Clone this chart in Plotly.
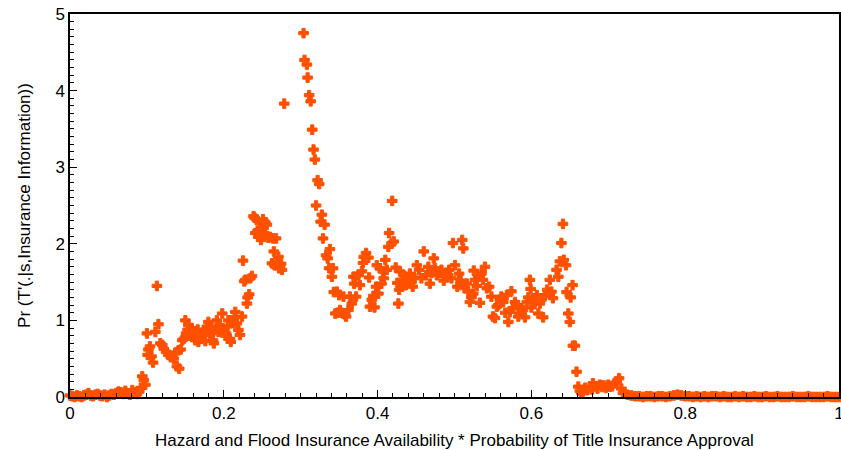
import plotly.graph_objects as go

# Baseline: near-zero density at low availability
base_x = [0.000, 0.003, 0.006, 0.009, 0.012, 0.015, 0.018, 0.021, 0.024, 0.027,
          0.030, 0.033, 0.036, 0.039, 0.042, 0.045, 0.048, 0.051, 0.054, 0.057,
          0.060, 0.063, 0.066, 0.069, 0.072, 0.075, 0.078, 0.081, 0.084, 0.087, 0.090]
base_y = [0.02, 0.01, 0.00, 0.02, 0.01, 0.00, 0.02, 0.03, 0.05, 0.02,
          0.01, 0.03, 0.04, 0.02, 0.01, 0.03, 0.00, 0.02, 0.04, 0.03,
          0.05, 0.07, 0.06, 0.04, 0.08, 0.05, 0.03, 0.09, 0.06, 0.04, 0.07]

# First rise
rise_x = [0.092, 0.094, 0.096, 0.098, 0.100, 0.101, 0.102, 0.104, 0.106, 0.108,
          0.111, 0.113, 0.115, 0.1175, 0.120, 0.122, 0.125, 0.128, 0.131, 0.133,
          0.135, 0.137, 0.139, 0.141, 0.142, 0.144, 0.146]
rise_y = [0.12, 0.27, 0.22, 0.16, 0.83, 0.55, 0.62, 0.66, 0.53, 0.45,
          0.85, 1.45, 0.95, 0.70, 0.68, 0.63, 0.59, 0.55, 0.52, 0.53,
          0.50, 0.58, 0.40, 0.61, 0.37, 0.62, 0.74]

# Cluster around one
clus_x = [0.148, 0.150, 0.151, 0.153, 0.154, 0.156, 0.158, 0.159, 0.161, 0.163,
          0.165, 0.166, 0.167, 0.169, 0.171, 0.172, 0.174, 0.176, 0.178, 0.180,
          0.181, 0.182, 0.184, 0.186, 0.187, 0.189, 0.191, 0.193, 0.1945, 0.196,
          0.198, 0.200, 0.202, 0.203, 0.205, 0.206, 0.208, 0.209, 0.2107, 0.212,
          0.214, 0.215, 0.217, 0.219, 0.221, 0.2236]
clus_y = [0.76, 1.00, 0.83, 0.88, 0.94, 0.80, 0.90, 0.85, 0.79, 0.74,
          0.83, 0.88, 0.72, 0.76, 0.79, 0.82, 0.85, 0.73, 0.92, 0.98,
          0.86, 0.81, 0.90, 0.74, 0.70, 0.875, 1.00, 0.85, 0.94, 0.90,
          1.09, 0.875, 0.80, 0.83, 0.92, 1.00, 0.76, 0.72, 1.00, 0.97,
          1.04, 1.11, 0.96, 0.875, 0.81, 1.05]

# Climb to the second shoulder
climb_x = [0.225, 0.2266, 0.228, 0.230, 0.231, 0.233, 0.2345, 0.2366, 0.2387, 0.240,
           0.241, 0.243, 0.244, 0.245, 0.247, 0.2485, 0.2496, 0.251, 0.2526, 0.254,
           0.256, 0.258, 0.260, 0.2626, 0.264, 0.265, 0.266, 0.268, 0.269, 0.271,
           0.272, 0.273, 0.2745, 0.2756, 0.2786]
climb_y = [1.78, 1.51, 1.53, 1.22, 1.30, 1.34, 1.55, 1.58, 2.36, 2.34,
           2.14, 2.31, 2.17, 2.09, 2.27, 2.05, 2.18, 2.32, 2.14, 2.28,
           2.25, 2.08, 2.09, 1.745, 2.07, 1.90, 1.72, 2.07, 1.77, 1.83,
           1.68, 1.70, 1.74, 1.66, 3.83]

# Main peak and its decay
peak_x = [0.3037, 0.305, 0.308, 0.309, 0.311, 0.313, 0.315, 0.3167, 0.3184, 0.320,
          0.322, 0.324, 0.326, 0.3275, 0.329, 0.331, 0.333, 0.335, 0.337, 0.338,
          0.3405, 0.342, 0.343, 0.345, 0.347, 0.348, 0.350, 0.351, 0.353, 0.3556,
          0.357, 0.359, 0.362, 0.364, 0.3665, 0.3686, 0.3695, 0.371, 0.372, 0.375]
peak_y = [4.75, 4.40, 4.34, 4.17, 3.94, 3.86, 3.49, 3.23, 3.10, 2.50,
          2.83, 2.78, 2.29, 2.38, 2.07, 2.25, 1.85, 1.81, 1.68, 1.93,
          1.57, 1.68, 1.37, 1.09, 1.375, 1.10, 1.33, 1.135, 1.10, 1.31,
          1.08, 1.05, 1.135, 1.31, 1.22, 1.57, 1.48, 1.57, 1.31, 1.59]

# Plateau
plat_x = [0.377, 0.3795, 0.381, 0.382, 0.385, 0.388, 0.389, 0.390, 0.3925, 0.3945,
          0.396, 0.398, 0.399, 0.401, 0.403, 0.405, 0.4068, 0.408, 0.410, 0.412,
          0.414, 0.415, 0.4185, 0.419, 0.421, 0.4236, 0.4257, 0.427, 0.428, 0.429,
          0.431, 0.4335, 0.435, 0.437, 0.439, 0.442, 0.444, 0.4457, 0.448, 0.451,
          0.454, 0.457, 0.460, 0.463, 0.466, 0.468, 0.470, 0.473, 0.4747, 0.477,
          0.480, 0.483, 0.486, 0.488, 0.490, 0.493, 0.496, 0.498, 0.5006, 0.5036,
          0.506, 0.508, 0.510, 0.5114]
plat_y = [1.46, 1.64, 1.75, 1.83, 1.88, 1.82, 1.56, 1.18, 1.27, 1.32,
          1.17, 1.44, 1.72, 1.35, 1.68, 1.48, 1.64, 1.55, 1.79, 1.66,
          1.96, 2.14, 2.01, 2.56, 2.03, 1.69, 1.49, 1.22, 1.40, 1.64,
          1.45, 1.53, 1.58, 1.46, 1.52, 1.61, 1.50, 1.44, 1.56, 1.72,
          1.66, 1.55, 1.90, 1.59, 1.70, 1.48, 1.62, 1.81, 1.68, 1.59,
          1.62, 1.66, 1.52, 1.58, 1.62, 1.66, 1.55, 2.01, 1.72, 1.44,
          1.61, 1.52, 2.05, 1.94]

# Gentle decline and last spike
dec_x = [0.513, 0.516, 0.518, 0.520, 0.522, 0.5244, 0.525, 0.5266, 0.529, 0.531,
         0.533, 0.535, 0.537, 0.5396, 0.542, 0.545, 0.548, 0.550, 0.5526, 0.555,
         0.557, 0.559, 0.561, 0.5634, 0.566, 0.568, 0.570, 0.572, 0.574, 0.5756,
         0.5786, 0.581, 0.583, 0.585, 0.587, 0.589, 0.5916, 0.594, 0.596, 0.598,
         0.599, 0.600, 0.602, 0.6045, 0.607, 0.609, 0.611, 0.613, 0.6153, 0.6175,
         0.6206, 0.622, 0.624, 0.626, 0.628, 0.6327, 0.635, 0.637, 0.639, 0.641,
         0.642, 0.645, 0.6457, 0.648, 0.650, 0.651, 0.6535]
dec_y = [1.42, 1.48, 1.38, 1.24, 1.30, 1.35, 1.65, 1.53, 1.45, 1.57,
         1.23, 1.61, 1.53, 1.70, 1.42, 1.44, 1.31, 1.05, 1.03, 1.18,
         1.20, 1.27, 1.31, 1.24, 1.10, 1.33, 0.98, 1.11, 1.38, 1.16,
         1.24, 1.20, 1.05, 1.09, 1.15, 1.135, 1.04, 1.24, 1.30, 1.53,
         1.41, 1.17, 1.28, 1.24, 1.33, 1.09, 1.22, 1.27, 1.04, 1.33,
         1.40, 1.36, 1.53, 1.375, 1.29, 1.66, 1.57, 1.77, 2.01, 2.26,
         1.79, 1.72, 1.37, 1.09, 0.98, 1.30, 1.46]

# Collapse and small bump
drop_x = [0.654, 0.6565, 0.6587, 0.661, 0.663, 0.665, 0.667, 0.670, 0.673, 0.676,
          0.679, 0.680, 0.683, 0.686, 0.689, 0.692, 0.694, 0.697, 0.700, 0.702,
          0.705, 0.708, 0.711, 0.714, 0.717, 0.719]
drop_y = [0.67, 0.67, 0.33, 0.135, 0.08, 0.05, 0.07, 0.12, 0.09, 0.13,
          0.10, 0.18, 0.14, 0.11, 0.16, 0.13, 0.15, 0.12, 0.16, 0.135,
          0.14, 0.18, 0.20, 0.245, 0.11, 0.05]

# Flat tail
tail_x = [0.725, 0.730, 0.735, 0.740, 0.745, 0.750, 0.755, 0.760, 0.765, 0.770,
          0.775, 0.780, 0.785, 0.790, 0.795, 0.800, 0.805, 0.810, 0.815, 0.820,
          0.825, 0.830, 0.835, 0.840, 0.845, 0.850, 0.855, 0.860, 0.865, 0.870,
          0.875, 0.880, 0.885, 0.890, 0.895, 0.900, 0.905, 0.910, 0.915, 0.920,
          0.925, 0.930, 0.935, 0.940, 0.945, 0.950, 0.955, 0.960, 0.965, 0.970,
          0.975, 0.980, 0.985, 0.990, 0.995, 1.000]
tail_y = [0.03, 0.02, 0.01, 0.01, 0.00, 0.01, 0.01, 0.00, 0.01, 0.01,
          0.00, 0.01, 0.02, 0.03, 0.02, 0.01, 0.01, 0.00, 0.01, 0.00,
          0.01, 0.00, 0.01, 0.01, 0.00, 0.01, 0.00, 0.00, 0.01, 0.00,
          0.01, 0.00, 0.00, 0.01, 0.00, 0.00, 0.01, 0.00, 0.00, 0.01,
          0.00, 0.00, 0.00, 0.01, 0.00, 0.00, 0.00, 0.01, 0.00, 0.00,
          0.00, 0.00, 0.01, 0.00, 0.00, 0.00]

xs = base_x + rise_x + clus_x + climb_x + peak_x + plat_x + dec_x + drop_x + tail_x
ys = base_y + rise_y + clus_y + climb_y + peak_y + plat_y + dec_y + drop_y + tail_y

FONT = "Liberation Sans, Arial, sans-serif"
ORANGE = "#ff5000"

fig = go.Figure(go.Scatter(
    x=xs, y=ys, mode="markers",
    marker=dict(symbol="cross", size=8, color=ORANGE, line=dict(width=1, color=ORANGE)),
    cliponaxis=False, hoverinfo="x+y",
))

axis_common = dict(
    showgrid=False, zeroline=False, showline=True, linecolor="black", linewidth=1.5,
    mirror=True, ticks="inside", tickcolor="black", tickwidth=1, ticklen=7,
    tickfont=dict(family=FONT, size=17, color="black"),
    ticklabeloverflow="allow",
)

fig.update_xaxes(
    **axis_common, range=[0, 1], tick0=0, dtick=0.2,
    minor=dict(ticks="inside", dtick=0.02, ticklen=4, tickcolor="black", tickwidth=1),
    title=dict(text="Hazard and Flood Insurance Availability * Probability of Title Insurance Approval",
               font=dict(family=FONT, size=17, color="black"), standoff=12),
)
fig.update_yaxes(
    **axis_common, range=[0, 5], tick0=0, dtick=1,
    minor=dict(ticks="inside", dtick=0.1, ticklen=4, tickcolor="black", tickwidth=1),
    title=dict(text="Pr (T'(.|s,Insurance Information))",
               font=dict(family=FONT, size=17, color="black"), standoff=20),
)

fig.update_layout(
    width=841, height=450, showlegend=False,
    margin=dict(l=70, r=2, t=14, b=53, autoexpand=False),
    plot_bgcolor="white", paper_bgcolor="white",
)

fig.write_html("out.html")
